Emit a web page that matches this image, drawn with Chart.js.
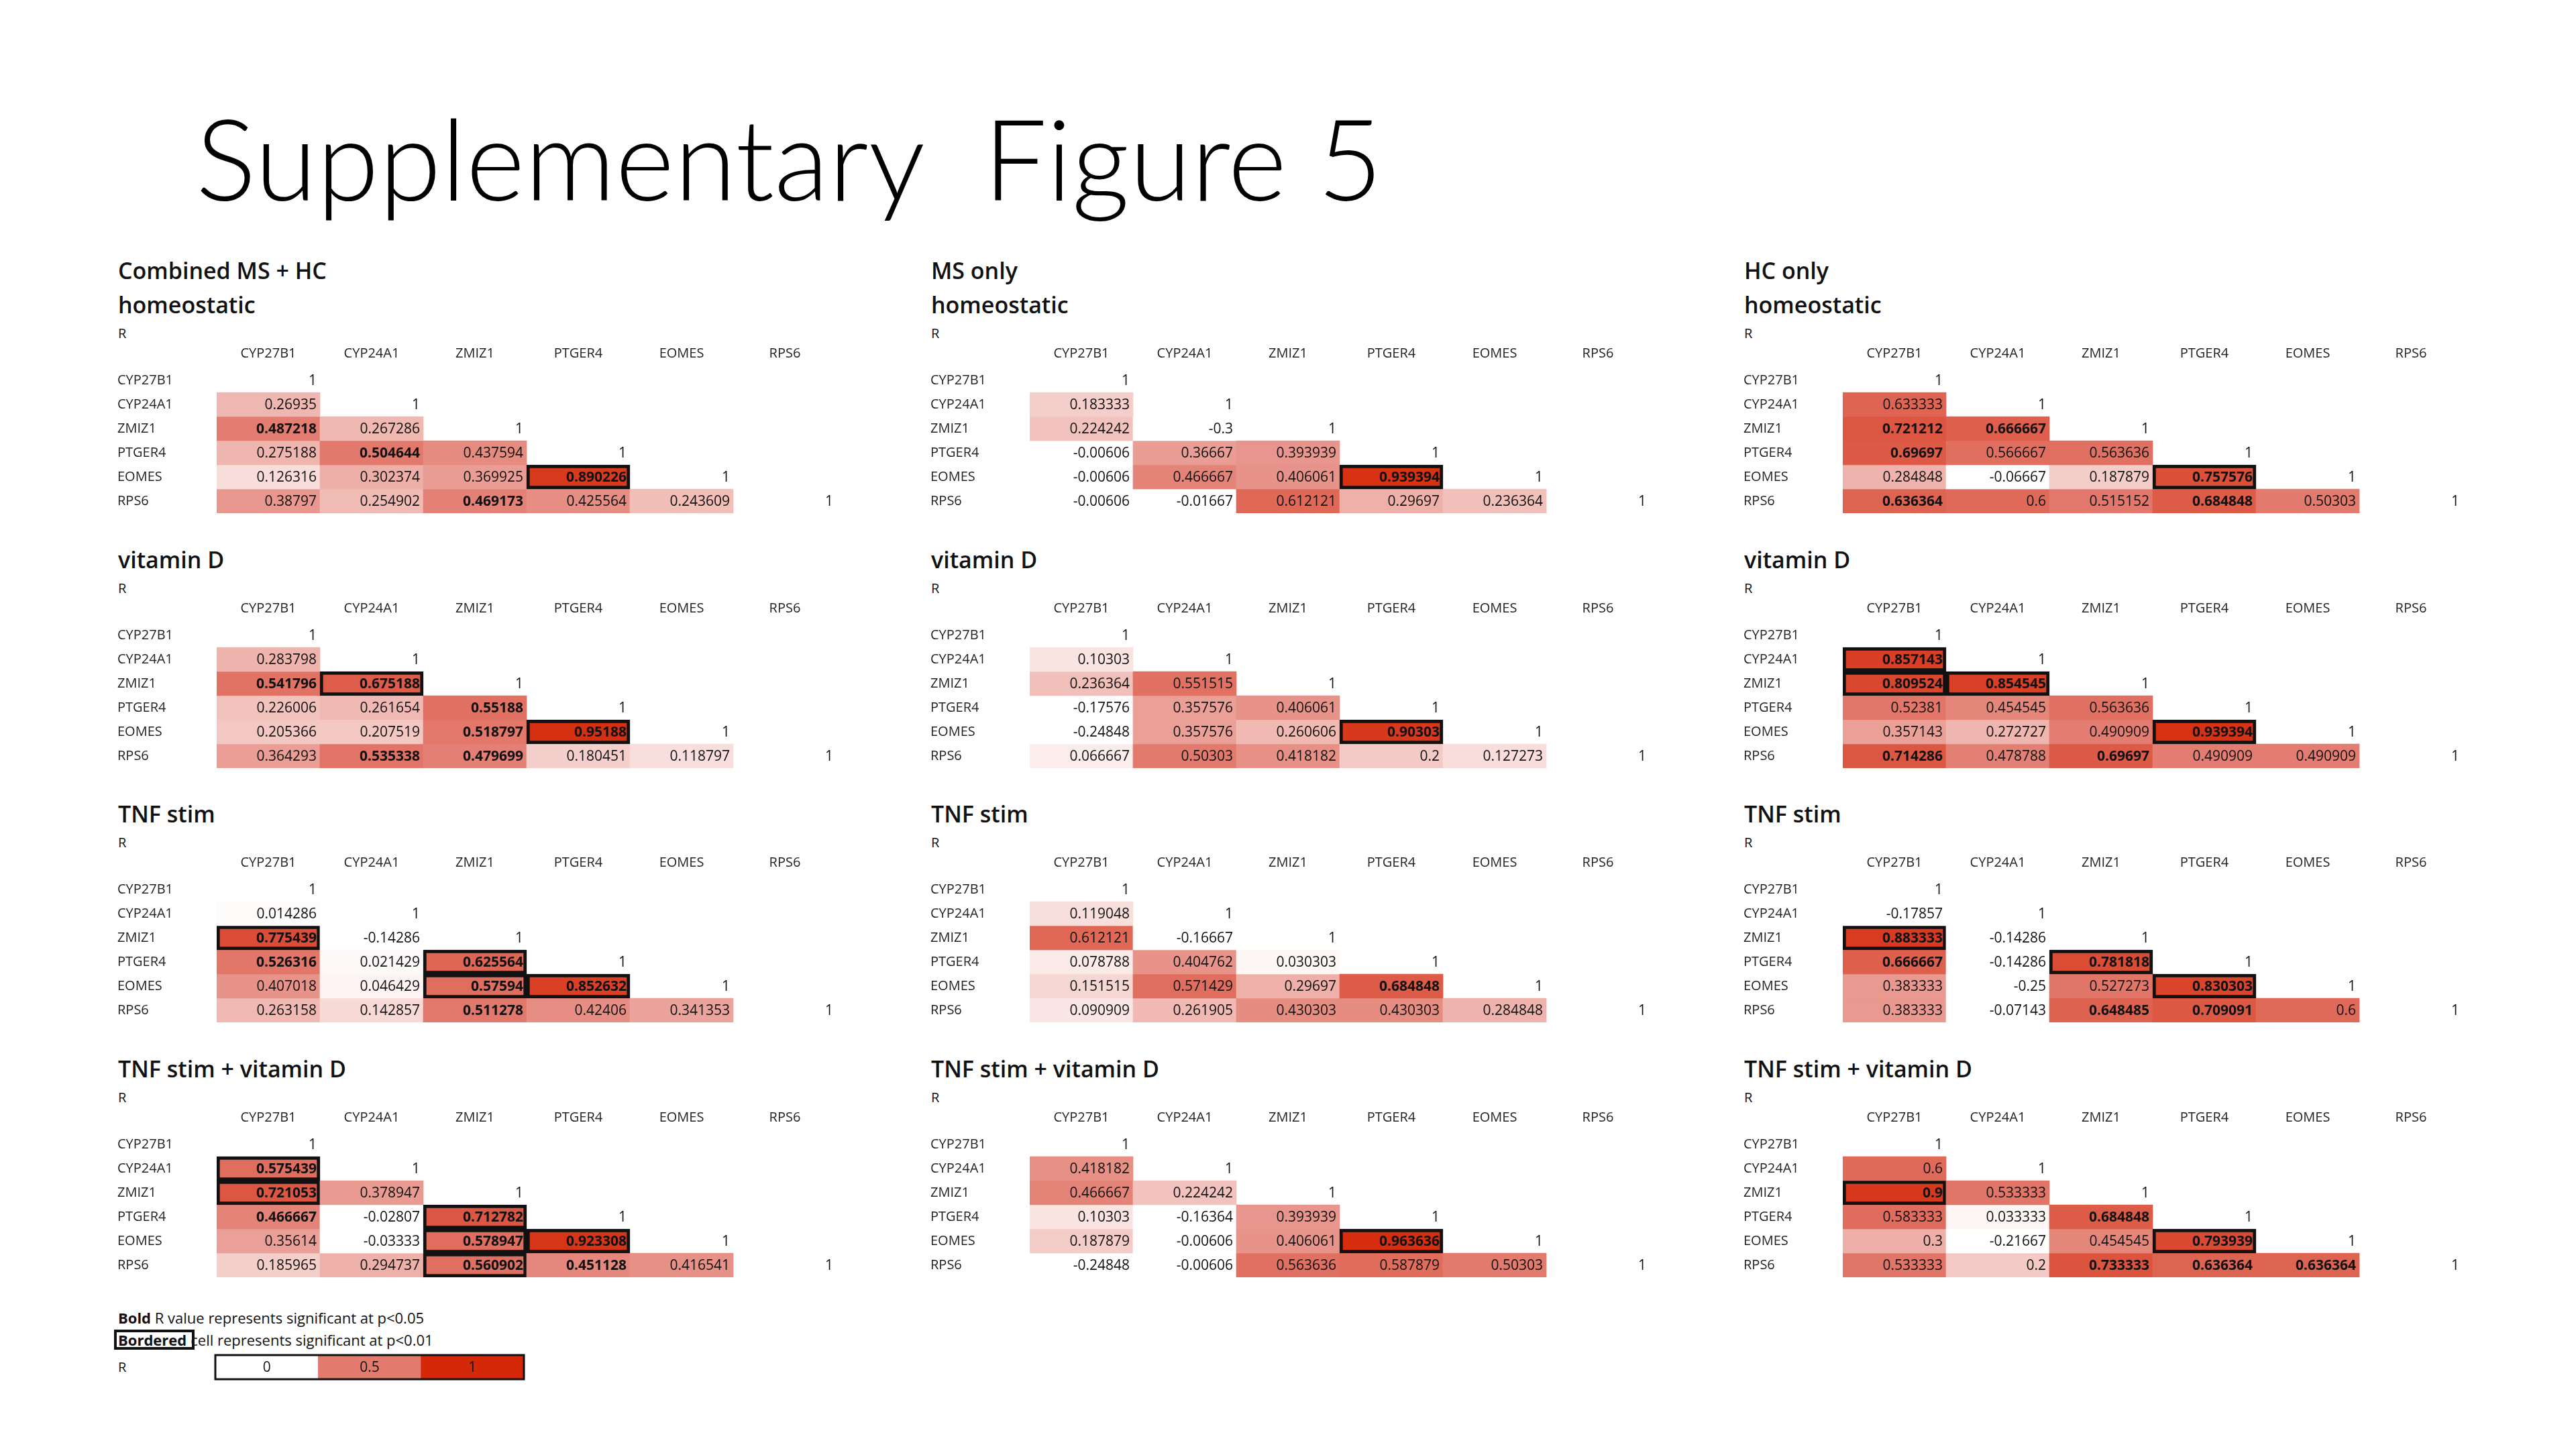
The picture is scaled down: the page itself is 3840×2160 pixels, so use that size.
<!DOCTYPE html>
<html>
<head>
<meta charset="utf-8">
<script src="https://cdn.jsdelivr.net/npm/chart.js@4"></script>
<style>
  body { margin: 0; background: #fff; width: 3840px; height: 2160px; position: relative; overflow: hidden; font-family: "Open Sans", sans-serif; color: #111; }
  .abs { position: absolute; white-space: nowrap; }
  .main { font-family: Lato, "Open Sans", sans-serif; font-weight: 300; font-size: 168px; left: 292px; top: 150px; line-height: 1; color: #000; }
  .ttl { font-size: 34px; font-weight: 600; line-height: 1; }
  .sm { font-size: 20px; line-height: 1; }
  .leg { font-size: 22px; line-height: 1; }
  canvas { position: absolute; }
</style>
</head>
<body>
<div class="abs main">Supplementary&nbsp; Figure 5</div>

<script>
// genes on both axes
const genes = ['CYP27B1', 'CYP24A1', 'ZMIZ1', 'PTGER4', 'EOMES', 'RPS6'];
const groupTitles = ['Combined MS + HC', 'MS only', 'HC only'];
const condTitles = ['homeostatic', 'vitamin D', 'TNF stim', 'TNF stim + vitamin D'];

// lower triangle R values, rows CYP24A1..RPS6 (diagonal is 1)
// sig: 0 = plain, 1 = bold (p<0.05), 2 = bold + bordered (p<0.01)
const allHomeo = [[0.26935], [0.487218, 0.267286], [0.275188, 0.504644, 0.437594], [0.126316, 0.302374, 0.369925, 0.890226], [0.38797, 0.254902, 0.469173, 0.425564, 0.243609]];
const allHomeoSig = [[0], [1, 0], [0, 1, 0], [0, 0, 0, 2], [0, 0, 1, 0, 0]];
const msHomeo = [[0.183333], [0.224242, -0.3], [-0.00606, 0.36667, 0.393939], [-0.00606, 0.466667, 0.406061, 0.939394], [-0.00606, -0.01667, 0.612121, 0.29697, 0.236364]];
const msHomeoSig = [[0], [0, 0], [0, 0, 0], [0, 0, 0, 2], [0, 0, 0, 0, 0]];
const hcHomeo = [[0.633333], [0.721212, 0.666667], [0.69697, 0.566667, 0.563636], [0.284848, -0.06667, 0.187879, 0.757576], [0.636364, 0.6, 0.515152, 0.684848, 0.50303]];
const hcHomeoSig = [[0], [1, 1], [1, 0, 0], [0, 0, 0, 2], [1, 0, 0, 1, 0]];

const allVitD = [[0.283798], [0.541796, 0.675188], [0.226006, 0.261654, 0.55188], [0.205366, 0.207519, 0.518797, 0.95188], [0.364293, 0.535338, 0.479699, 0.180451, 0.118797]];
const allVitDSig = [[0], [1, 2], [0, 0, 1], [0, 0, 1, 2], [0, 1, 1, 0, 0]];
const msVitD = [[0.10303], [0.236364, 0.551515], [-0.17576, 0.357576, 0.406061], [-0.24848, 0.357576, 0.260606, 0.90303], [0.066667, 0.50303, 0.418182, 0.2, 0.127273]];
const msVitDSig = [[0], [0, 0], [0, 0, 0], [0, 0, 0, 2], [0, 0, 0, 0, 0]];
const hcVitD = [[0.857143], [0.809524, 0.854545], [0.52381, 0.454545, 0.563636], [0.357143, 0.272727, 0.490909, 0.939394], [0.714286, 0.478788, 0.69697, 0.490909, 0.490909]];
const hcVitDSig = [[2], [2, 2], [0, 0, 0], [0, 0, 0, 2], [1, 0, 1, 0, 0]];

const allTnf = [[0.014286], [0.775439, -0.14286], [0.526316, 0.021429, 0.625564], [0.407018, 0.046429, 0.57594, 0.852632], [0.263158, 0.142857, 0.511278, 0.42406, 0.341353]];
const allTnfSig = [[0], [2, 0], [1, 0, 2], [0, 0, 2, 2], [0, 0, 1, 0, 0]];
const msTnf = [[0.119048], [0.612121, -0.16667], [0.078788, 0.404762, 0.030303], [0.151515, 0.571429, 0.29697, 0.684848], [0.090909, 0.261905, 0.430303, 0.430303, 0.284848]];
const msTnfSig = [[0], [0, 0], [0, 0, 0], [0, 0, 0, 1], [0, 0, 0, 0, 0]];
const hcTnf = [[-0.17857], [0.883333, -0.14286], [0.666667, -0.14286, 0.781818], [0.383333, -0.25, 0.527273, 0.830303], [0.383333, -0.07143, 0.648485, 0.709091, 0.6]];
const hcTnfSig = [[0], [2, 0], [1, 0, 2], [0, 0, 0, 2], [0, 0, 1, 1, 0]];

const allTnfVitD = [[0.575439], [0.721053, 0.378947], [0.466667, -0.02807, 0.712782], [0.35614, -0.03333, 0.578947, 0.923308], [0.185965, 0.294737, 0.560902, 0.451128, 0.416541]];
const allTnfVitDSig = [[2], [2, 0], [1, 0, 2], [0, 0, 2, 2], [0, 0, 2, 1, 0]];
const msTnfVitD = [[0.418182], [0.466667, 0.224242], [0.10303, -0.16364, 0.393939], [0.187879, -0.00606, 0.406061, 0.963636], [-0.24848, -0.00606, 0.563636, 0.587879, 0.50303]];
const msTnfVitDSig = [[0], [0, 0], [0, 0, 0], [0, 0, 0, 2], [0, 0, 0, 0, 0]];
const hcTnfVitD = [[0.6], [0.9, 0.533333], [0.583333, 0.033333, 0.684848], [0.3, -0.21667, 0.454545, 0.793939], [0.533333, 0.2, 0.733333, 0.636364, 0.636364]];
const hcTnfVitDSig = [[0], [2, 0], [0, 0, 1], [0, 0, 0, 2], [0, 0, 1, 1, 1]];

const legendValues = [0, 0.5, 1];

const panels = [
  [allHomeo, allHomeoSig, msHomeo, msHomeoSig, hcHomeo, hcHomeoSig],
  [allVitD, allVitDSig, msVitD, msVitDSig, hcVitD, hcVitDSig],
  [allTnf, allTnfSig, msTnf, msTnfSig, hcTnf, hcTnfSig],
  [allTnfVitD, allTnfVitDSig, msTnfVitD, msTnfVitDSig, hcTnfVitD, hcTnfVitDSig]
];

// white -> salmon -> red, like the excel colour scale
function heat(v) {
  v = Math.max(0, Math.min(1, v));
  const lo = [255, 255, 255], mid = [226, 122, 110], hi = [213, 40, 8];
  const a = v < 0.5 ? lo : mid, b = v < 0.5 ? mid : hi;
  const t = v < 0.5 ? v / 0.5 : (v - 0.5) / 0.5;
  const c = a.map((x, k) => Math.round(x + (b[k] - x) * t));
  return `rgb(${c[0]},${c[1]},${c[2]})`;
}

const valueText = {
  id: 'valueText',
  afterDatasetsDraw(chart) {
    const ctx = chart.ctx;
    ctx.save();
    ctx.textAlign = 'right';
    ctx.textBaseline = 'middle';
    ctx.fillStyle = '#111';
    chart.data.datasets.forEach((ds, i) => {
      chart.getDatasetMeta(i).data.forEach((bar, j) => {
        if (ds.data[j] == null) return;
        const align = ds.align || 'right';
        ctx.textAlign = align;
        ctx.font = (ds.sig[j] ? 'bold ' : '') + '21px "Open Sans"';
        const y = (bar.y + bar.base) / 2;
        const x = align === 'center' ? bar.x : bar.x + bar.width / 2 - 5;
        ctx.fillText(String(ds.vals[j]), x, y + 1);
      });
    });
    ctx.restore();
  }
};

function addDiv(cls, text, left, top, html) {
  const d = document.createElement('div');
  d.className = 'abs ' + cls;
  if (html) d.innerHTML = text; else d.textContent = text;
  d.style.left = left + 'px';
  d.style.top = top + 'px';
  document.body.appendChild(d);
}

function makeCanvas(left, top, w, h) {
  const c = document.createElement('canvas');
  c.width = w; c.height = h;
  c.style.left = left + 'px'; c.style.top = top + 'px';
  c.style.width = w + 'px'; c.style.height = h + 'px';
  document.body.appendChild(c);
  return c;
}

function drawPanel(rows, sig, offX, offY) {
  const datasets = genes.map((g, i) => {
    const vals = [], bg = [], bw = [], s = [], data = [];
    genes.forEach((_, j) => {
      if (j > i) { data.push(null); vals.push(null); bg.push('rgba(0,0,0,0)'); bw.push(0); s.push(0); return; }
      const diag = j === i;
      const v = diag ? 1 : rows[i - 1][j];
      const sg = diag ? 0 : sig[i - 1][j];
      data.push([i, i + 1]);
      vals.push(v);
      bg.push(diag ? 'rgba(0,0,0,0)' : heat(v));
      bw.push(sg === 2 ? 5 : 0);
      s.push(sg);
    });
    return { data, vals, sig: s, backgroundColor: bg, borderWidth: bw, borderColor: '#111', borderSkipped: false, categoryPercentage: 1, barPercentage: 1, grouped: false };
  });
  const cv = makeCanvas(175 + offX, 514 + offY, 1078, 263);
  new Chart(cv, {
    type: 'bar',
    data: { labels: genes, datasets },
    plugins: [valueText],
    options: {
      responsive: false, animation: false, devicePixelRatio: 1,
      layout: { padding: { right: 6, bottom: 6 } },
      plugins: { legend: { display: false }, tooltip: { enabled: false } },
      scales: {
        x: {
          position: 'top', grid: { display: false }, border: { display: false },
          ticks: { color: '#222', font: { size: 20, family: 'Open Sans' }, padding: 2, maxRotation: 0 },
          afterFit: a => { a.height = 35; }
        },
        y: {
          min: 0, max: 6, reverse: true, grid: { display: false }, border: { display: false },
          afterBuildTicks: a => { a.ticks = genes.map((_, i) => ({ value: i + 0.5 })); },
          ticks: { crossAlign: 'far', padding: 0, color: '#222', font: { size: 20, family: 'Open Sans' }, callback: v => genes[Math.floor(v)] },
          afterFit: a => { a.width = 148; }
        }
      }
    }
  });
}

const colX = [0, 1212, 2424];
const rowY = [0, 380, 759, 1139];

panels.forEach((p, r) => {
  colX.forEach((ox, c) => {
    const oy = rowY[r];
    if (r === 0) addDiv('ttl', groupTitles[c], 176 + ox, 386);
    addDiv('ttl', condTitles[r], 176 + ox, 437 + oy);
    addDiv('sm', 'R', 176 + ox, 487 + oy);
    drawPanel(p[c * 2], p[c * 2 + 1], ox, oy);
  });
});

// legend
addDiv('leg', '<b>Bold</b> R value represents significant at p&lt;0.05', 176, 1953, true);
addDiv('leg', '<span style="display:inline-block;border:4px solid #111;padding:0 8px 0 2px;margin-left:-6px;font-weight:bold">Bordered</span><span style="margin-left:-6px">cell represents significant at p&lt;0.01</span>', 176, 1982, true);
addDiv('sm', 'R', 176, 2028);

const lc = makeCanvas(319, 2018, 464, 40);
new Chart(lc, {
  type: 'bar',
  data: {
    labels: legendValues.map(String),
    datasets: [{
      data: legendValues.map(() => [0, 1]),
      vals: legendValues, sig: legendValues.map(() => 0), align: 'center',
      backgroundColor: legendValues.map(heat), borderWidth: 0,
      categoryPercentage: 1, barPercentage: 1
    }]
  },
  plugins: [valueText, {
    id: 'frame',
    afterDraw(chart) {
      const a = chart.chartArea, ctx = chart.ctx;
      ctx.save(); ctx.strokeStyle = '#111'; ctx.lineWidth = 3;
      ctx.strokeRect(a.left, a.top, a.right - a.left, a.bottom - a.top);
      ctx.restore();
    }
  }],
  options: {
    responsive: false, animation: false, devicePixelRatio: 1,
    layout: { padding: 2 },
    plugins: { legend: { display: false }, tooltip: { enabled: false } },
    scales: {
      x: { display: false },
      y: { display: false, min: 0, max: 1, reverse: true }
    }
  }
});
</script>
</body>
</html>
